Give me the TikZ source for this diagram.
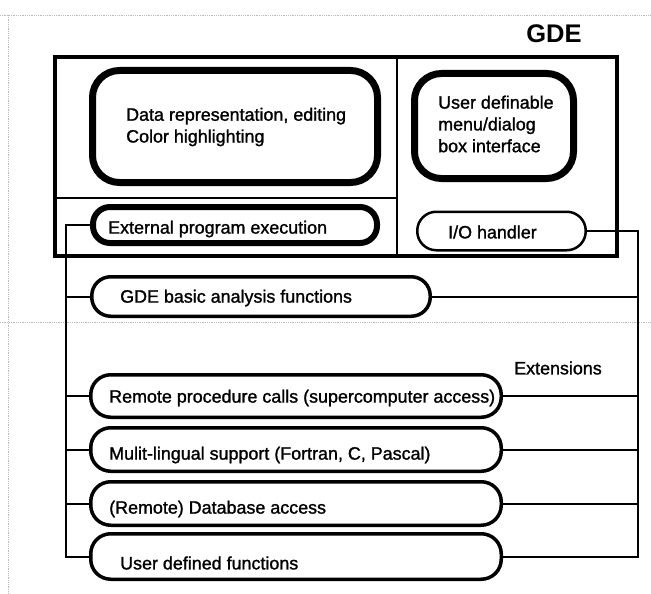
\documentclass[tikz,border=0pt]{standalone}
\usepackage{fontspec}
\setmainfont{Liberation Sans}
\newfontfamily\scanfont{Liberation Sans}[FakeBold=1.3]
\begin{document}
\begin{tikzpicture}[x=1pt,y=-1pt,
  rbox/.style={draw, inner sep=0pt, rectangle},
  lbl/.style={anchor=west, inner sep=0pt, align=left, font=\scanfont\fontsize{17.9}{21.8}\selectfont},
  conn/.style={line width=2pt},
  div/.style={line width=2pt},
  scan/.style={gray!55, line width=0.8pt, densely dotted}]
\useasboundingbox (0,0) rectangle (651,594);
% scan artifacts
\draw[scan] (0,15) -- (651,15);
\draw[scan] (8,15) -- (8,594);
\draw[scan] (0,322) -- (651,322);

% title
\node[font=\fontsize{25.5}{28}\selectfont\bfseries, inner sep=0pt] (title) at (554,34) {GDE};

% GDE frame
\node[rbox, line width=3.5pt, minimum width=562pt, minimum height=199pt] (gde) at (336,156.5) {};
\draw[div] (397,57) -- (397,256);
\draw[div] (55,198) -- (397,198);

% boxes
\node[rbox, line width=7pt, rounded corners=27pt, minimum width=285pt, minimum height=112pt] (data) at (235,126.5) {};
\node[rbox, line width=7pt, rounded corners=27pt, minimum width=159pt, minimum height=105pt] (udm) at (494,126) {};
\node[rbox, line width=6pt, rounded corners=17pt, minimum width=284pt, minimum height=36pt] (ext) at (235,225) {};
\node[rbox, line width=2.5pt, rounded corners=19pt, minimum width=168.5pt, minimum height=38.5pt] (io) at (501.5,231) {};
\node[rbox, line width=3.5pt, rounded corners=19pt, minimum width=338.5pt, minimum height=39.5pt] (gba) at (261,296.5) {};
\node[rbox, line width=3.5pt, rounded corners=20pt, minimum width=410.5pt, minimum height=42.5pt] (rpc) at (296,396) {};
\node[rbox, line width=3.5pt, rounded corners=20pt, minimum width=410.5pt, minimum height=43.5pt] (mls) at (296,449.5) {};
\node[rbox, line width=3.5pt, rounded corners=20pt, minimum width=410.5pt, minimum height=43.5pt] (db) at (296,503.5) {};
\node[rbox, line width=3.5pt, rounded corners=20pt, minimum width=410.5pt, minimum height=45.5pt] (udf) at (296,556.5) {};

% labels
\node[lbl] (t-data) at (126,127) {Data representation, editing\\Color highlighting};
\node[lbl] (t-udm) at (438,124) {User definable\\menu/dialog\\box interface};
\node[lbl] (t-ext) at (108,229) {External program execution};
\node[lbl] (t-io) at (448,232) {I/O handler};
\node[lbl] (t-gba) at (120,298) {GDE basic analysis functions};
\node[lbl, anchor=center] (t-extn) at (558,368) {Extensions};
\node[lbl] (t-rpc) at (109,398) {Remote procedure calls (supercomputer access)};
\node[lbl] (t-mls) at (109,455) {Mulit-lingual support (Fortran, C, Pascal)};
\node[lbl] (t-db) at (109,509) {(Remote) Database access};
\node[lbl] (t-udf) at (120,563) {User defined functions};

% buses
\coordinate (busL) at (66,0);
\coordinate (busR) at (638,0);
\draw[conn] (ext.west) -- (ext.west -| busL) -- (udf.west -| busL) -- (udf.west);
\foreach \n in {gba,rpc,mls,db} \draw[conn] (\n.west) -- (\n.west -| busL);
\draw[conn] (io.east) -- (io.east -| busR) -- (udf.east -| busR) -- (udf.east);
\foreach \n in {gba,rpc,mls,db} \draw[conn] (\n.east) -- (\n.east -| busR);
\end{tikzpicture}
\end{document}
